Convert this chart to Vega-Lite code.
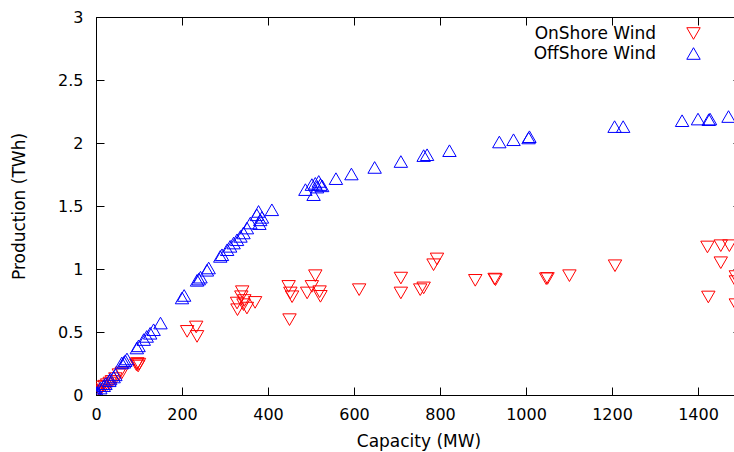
{
  "$schema": "https://vega.github.io/schema/vega-lite/v6.json",
  "width": 645,
  "height": 378,
  "autosize": {"type": "none"},
  "padding": {"left": 96, "top": 17, "right": 0, "bottom": 57},
  "background": "white",
  "config": {
    "view": {"stroke": "black", "strokeWidth": 1},
    "axis": {
      "grid": false,
      "domainColor": "black",
      "tickColor": "black",
      "labelColor": "black",
      "titleColor": "black",
      "labelFont": "DejaVu Sans",
      "titleFont": "DejaVu Sans",
      "labelFontSize": 16,
      "titleFontSize": 17,
      "titleFontWeight": "normal",
      "tickSize": -8,
      "labelFlush": false,
      "labelOverlap": false
    },
    "legend": {
      "labelFont": "DejaVu Sans",
      "labelFontSize": 17,
      "labelColor": "black"
    }
  },
  "data": {
    "values": [
      {"series": "OnShore Wind", "capacity": 0, "production": 0.02},
      {"series": "OnShore Wind", "capacity": 2, "production": 0.03},
      {"series": "OnShore Wind", "capacity": 4, "production": 0.01},
      {"series": "OnShore Wind", "capacity": 1, "production": 0.0},
      {"series": "OnShore Wind", "capacity": 8, "production": 0.04},
      {"series": "OnShore Wind", "capacity": 14, "production": 0.063},
      {"series": "OnShore Wind", "capacity": 20, "production": 0.07},
      {"series": "OnShore Wind", "capacity": 26, "production": 0.082},
      {"series": "OnShore Wind", "capacity": 32, "production": 0.095},
      {"series": "OnShore Wind", "capacity": 37, "production": 0.108},
      {"series": "OnShore Wind", "capacity": 45, "production": 0.13},
      {"series": "OnShore Wind", "capacity": 53, "production": 0.161},
      {"series": "OnShore Wind", "capacity": 60, "production": 0.175},
      {"series": "OnShore Wind", "capacity": 94, "production": 0.24},
      {"series": "OnShore Wind", "capacity": 96, "production": 0.25},
      {"series": "OnShore Wind", "capacity": 98, "production": 0.23},
      {"series": "OnShore Wind", "capacity": 100, "production": 0.245},
      {"series": "OnShore Wind", "capacity": 212, "production": 0.505},
      {"series": "OnShore Wind", "capacity": 233, "production": 0.54},
      {"series": "OnShore Wind", "capacity": 235, "production": 0.465},
      {"series": "OnShore Wind", "capacity": 328, "production": 0.73},
      {"series": "OnShore Wind", "capacity": 329, "production": 0.677},
      {"series": "OnShore Wind", "capacity": 338, "production": 0.78},
      {"series": "OnShore Wind", "capacity": 340, "production": 0.82},
      {"series": "OnShore Wind", "capacity": 343, "production": 0.717},
      {"series": "OnShore Wind", "capacity": 345, "production": 0.75},
      {"series": "OnShore Wind", "capacity": 351, "production": 0.69},
      {"series": "OnShore Wind", "capacity": 370, "production": 0.735},
      {"series": "OnShore Wind", "capacity": 448, "production": 0.862},
      {"series": "OnShore Wind", "capacity": 452, "production": 0.81},
      {"series": "OnShore Wind", "capacity": 456, "production": 0.78},
      {"series": "OnShore Wind", "capacity": 450, "production": 0.598},
      {"series": "OnShore Wind", "capacity": 491, "production": 0.81},
      {"series": "OnShore Wind", "capacity": 502, "production": 0.862},
      {"series": "OnShore Wind", "capacity": 510, "production": 0.947},
      {"series": "OnShore Wind", "capacity": 520, "production": 0.82},
      {"series": "OnShore Wind", "capacity": 522, "production": 0.783},
      {"series": "OnShore Wind", "capacity": 612, "production": 0.836},
      {"series": "OnShore Wind", "capacity": 709, "production": 0.928},
      {"series": "OnShore Wind", "capacity": 709, "production": 0.81},
      {"series": "OnShore Wind", "capacity": 754, "production": 0.836},
      {"series": "OnShore Wind", "capacity": 762, "production": 0.85},
      {"series": "OnShore Wind", "capacity": 785, "production": 1.034},
      {"series": "OnShore Wind", "capacity": 793, "production": 1.08},
      {"series": "OnShore Wind", "capacity": 882, "production": 0.91},
      {"series": "OnShore Wind", "capacity": 927, "production": 0.92},
      {"series": "OnShore Wind", "capacity": 929, "production": 0.915},
      {"series": "OnShore Wind", "capacity": 1047, "production": 0.923},
      {"series": "OnShore Wind", "capacity": 1050, "production": 0.925},
      {"series": "OnShore Wind", "capacity": 1101, "production": 0.947},
      {"series": "OnShore Wind", "capacity": 1207, "production": 1.026},
      {"series": "OnShore Wind", "capacity": 1422, "production": 1.175},
      {"series": "OnShore Wind", "capacity": 1453, "production": 1.185},
      {"series": "OnShore Wind", "capacity": 1473, "production": 1.185},
      {"series": "OnShore Wind", "capacity": 1453, "production": 1.05},
      {"series": "OnShore Wind", "capacity": 1424, "production": 0.778},
      {"series": "OnShore Wind", "capacity": 1488, "production": 0.94},
      {"series": "OnShore Wind", "capacity": 1488, "production": 0.9},
      {"series": "OnShore Wind", "capacity": 1488, "production": 0.717},
      {"series": "OffShore Wind", "capacity": 0, "production": 0.0},
      {"series": "OffShore Wind", "capacity": 1, "production": 0.01},
      {"series": "OffShore Wind", "capacity": 2, "production": 0.008},
      {"series": "OffShore Wind", "capacity": 3, "production": 0.02},
      {"series": "OffShore Wind", "capacity": 5, "production": 0.015},
      {"series": "OffShore Wind", "capacity": 10, "production": 0.055},
      {"series": "OffShore Wind", "capacity": 18, "production": 0.074},
      {"series": "OffShore Wind", "capacity": 22, "production": 0.09},
      {"series": "OffShore Wind", "capacity": 31, "production": 0.113},
      {"series": "OffShore Wind", "capacity": 33, "production": 0.127},
      {"series": "OffShore Wind", "capacity": 41, "production": 0.143},
      {"series": "OffShore Wind", "capacity": 45, "production": 0.16},
      {"series": "OffShore Wind", "capacity": 60, "production": 0.254},
      {"series": "OffShore Wind", "capacity": 65, "production": 0.26},
      {"series": "OffShore Wind", "capacity": 68, "production": 0.272},
      {"series": "OffShore Wind", "capacity": 72, "production": 0.286},
      {"series": "OffShore Wind", "capacity": 95, "production": 0.373},
      {"series": "OffShore Wind", "capacity": 99, "production": 0.39},
      {"series": "OffShore Wind", "capacity": 111, "production": 0.44},
      {"series": "OffShore Wind", "capacity": 118, "production": 0.465},
      {"series": "OffShore Wind", "capacity": 126, "production": 0.49},
      {"series": "OffShore Wind", "capacity": 134, "production": 0.518},
      {"series": "OffShore Wind", "capacity": 150, "production": 0.571},
      {"series": "OffShore Wind", "capacity": 200, "production": 0.77},
      {"series": "OffShore Wind", "capacity": 205, "production": 0.79},
      {"series": "OffShore Wind", "capacity": 235, "production": 0.91},
      {"series": "OffShore Wind", "capacity": 239, "production": 0.92},
      {"series": "OffShore Wind", "capacity": 243, "production": 0.935},
      {"series": "OffShore Wind", "capacity": 258, "production": 0.99},
      {"series": "OffShore Wind", "capacity": 262, "production": 1.008},
      {"series": "OffShore Wind", "capacity": 289, "production": 1.1},
      {"series": "OffShore Wind", "capacity": 293, "production": 1.113},
      {"series": "OffShore Wind", "capacity": 305, "production": 1.153},
      {"series": "OffShore Wind", "capacity": 312, "production": 1.18},
      {"series": "OffShore Wind", "capacity": 320, "production": 1.206},
      {"series": "OffShore Wind", "capacity": 328, "production": 1.232},
      {"series": "OffShore Wind", "capacity": 336, "production": 1.259},
      {"series": "OffShore Wind", "capacity": 343, "production": 1.286},
      {"series": "OffShore Wind", "capacity": 351, "production": 1.325},
      {"series": "OffShore Wind", "capacity": 359, "production": 1.365},
      {"series": "OffShore Wind", "capacity": 374, "production": 1.43},
      {"series": "OffShore Wind", "capacity": 378, "production": 1.457},
      {"series": "OffShore Wind", "capacity": 382, "production": 1.39},
      {"series": "OffShore Wind", "capacity": 386, "production": 1.41},
      {"series": "OffShore Wind", "capacity": 380, "production": 1.36},
      {"series": "OffShore Wind", "capacity": 409, "production": 1.47},
      {"series": "OffShore Wind", "capacity": 487, "production": 1.63},
      {"series": "OffShore Wind", "capacity": 502, "production": 1.67},
      {"series": "OffShore Wind", "capacity": 506, "production": 1.59},
      {"series": "OffShore Wind", "capacity": 510, "production": 1.68},
      {"series": "OffShore Wind", "capacity": 514, "production": 1.65},
      {"series": "OffShore Wind", "capacity": 518, "production": 1.695},
      {"series": "OffShore Wind", "capacity": 522, "production": 1.67},
      {"series": "OffShore Wind", "capacity": 526, "production": 1.66},
      {"series": "OffShore Wind", "capacity": 558, "production": 1.717},
      {"series": "OffShore Wind", "capacity": 594, "production": 1.754},
      {"series": "OffShore Wind", "capacity": 648, "production": 1.806},
      {"series": "OffShore Wind", "capacity": 709, "production": 1.853},
      {"series": "OffShore Wind", "capacity": 762, "production": 1.9},
      {"series": "OffShore Wind", "capacity": 770, "production": 1.907},
      {"series": "OffShore Wind", "capacity": 822, "production": 1.939},
      {"series": "OffShore Wind", "capacity": 938, "production": 2.008},
      {"series": "OffShore Wind", "capacity": 971, "production": 2.026},
      {"series": "OffShore Wind", "capacity": 1006, "production": 2.04},
      {"series": "OffShore Wind", "capacity": 1008, "production": 2.05},
      {"series": "OffShore Wind", "capacity": 1206, "production": 2.13},
      {"series": "OffShore Wind", "capacity": 1226, "production": 2.13},
      {"series": "OffShore Wind", "capacity": 1363, "production": 2.177},
      {"series": "OffShore Wind", "capacity": 1400, "production": 2.19},
      {"series": "OffShore Wind", "capacity": 1425, "production": 2.185},
      {"series": "OffShore Wind", "capacity": 1428, "production": 2.19},
      {"series": "OffShore Wind", "capacity": 1471, "production": 2.21}
    ]
  },
  "layer": [
    {
      "mark": {"type": "point", "filled": false, "strokeWidth": 1, "size": 180, "opacity": 1, "clip": true},
      "encoding": {
        "x": {
          "field": "capacity", "type": "quantitative",
          "scale": {"domain": [0, 1500], "nice": false, "zero": false},
          "axis": {"orient": "bottom", "title": "Capacity (MW)", "values": [0, 200, 400, 600, 800, 1000, 1200, 1400], "format": "d", "labelPadding": 19, "titlePadding": 11}
        },
        "y": {
          "field": "production", "type": "quantitative",
          "scale": {"domain": [0, 3], "nice": false, "zero": false},
          "axis": {"orient": "left", "title": "Production (TWh)", "values": [0, 0.5, 1, 1.5, 2, 2.5, 3], "format": "~g", "labelPadding": 21, "titlePadding": 29}
        },
        "color": {
          "field": "series", "type": "nominal",
          "scale": {"domain": ["OnShore Wind", "OffShore Wind"], "range": ["#ff0000", "#0000ff"]},
          "legend": {
            "title": null, "orient": "none", "legendX": 589, "legendY": 8,
            "labelAlign": "right", "labelOffset": -46, "rowPadding": 2, "symbolStrokeWidth": 1, "symbolSize": 180
          }
        },
        "shape": {
          "field": "series", "type": "nominal",
          "scale": {"domain": ["OnShore Wind", "OffShore Wind"], "range": ["triangle-down", "triangle-up"]},
          "legend": null
        }
      }
    },
    {
      "mark": {"type": "point", "opacity": 0},
      "encoding": {
        "x": {"field": "capacity", "type": "quantitative", "axis": {"orient": "top", "labels": false, "title": null, "values": [0, 200, 400, 600, 800, 1000, 1200, 1400], "domain": false}},
        "y": {"field": "production", "type": "quantitative", "axis": {"orient": "right", "labels": false, "title": null, "values": [0, 0.5, 1, 1.5, 2, 2.5, 3], "domain": false}}
      }
    }
  ],
  "resolve": {"axis": {"x": "independent", "y": "independent"}}
}
